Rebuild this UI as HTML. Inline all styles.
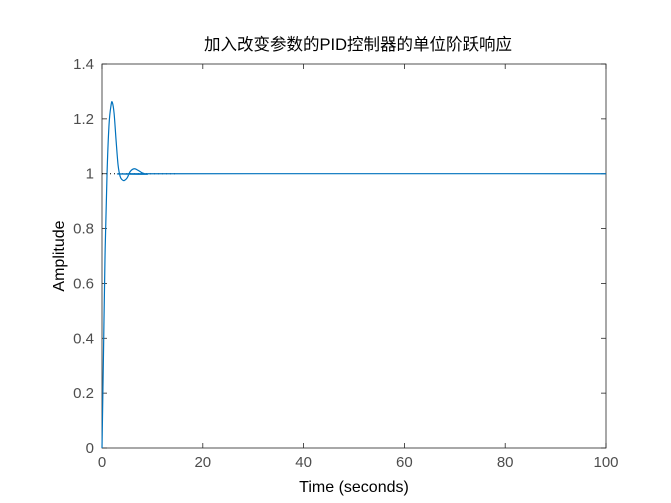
<!DOCTYPE html>
<html><head><meta charset="utf-8"><style>
body{margin:0;background:#fff;}
svg{display:block;font-family:"Liberation Sans","Noto Sans CJK SC",sans-serif;}
</style></head><body>
<svg id="chart" width="671" height="503" viewBox="0 0 671 503">
<rect x="0" y="0" width="671" height="503" fill="#fff"/>
<rect x="102" y="64" width="504" height="384" fill="#fff" stroke="#262626" stroke-width="0.8"/>
<g id="axes"></g>
<g id="series"></g>
<text x="358" y="50" text-anchor="middle" font-size="16.5" fill="#000">加入改变参数的PID控制器的单位阶跃响应</text>
<text x="354" y="492" text-anchor="middle" font-size="16" fill="#000">Time (seconds)</text>
<text transform="translate(64,256) rotate(-90)" text-anchor="middle" font-size="16" fill="#000">Amplitude</text>
</svg>
<script>
const timeValues=[0,0.3,0.6,1.0,1.4,1.8,2.05,2.4,2.8,3.2,3.6,4.0,4.4,5.0,5.6,6.4,7.2,8.0,9,10,100];
const amplitudeValues=[0,0.35,0.7,1.0,1.18,1.25,1.26,1.22,1.12,1.03,0.99,0.978,0.975,0.985,1.008,1.018,1.012,1.003,0.998,1.0,1.0];
const steadyState=[1.0];
const xTicks=[0,20,40,60,80,100];
const yTicks=[0,0.2,0.4,0.6,0.8,1,1.2,1.4];
const L=102,R=606,T=64,B=448;
const sx=v=>L+(v-0)/100*(R-L);
const sy=v=>B-(v-0)/1.4*(B-T);
const NS="http://www.w3.org/2000/svg";
const axes=document.getElementById('axes');
const ser=document.getElementById('series');
function mk(tag,attrs,parent){const e=document.createElementNS(NS,tag);for(const k in attrs)e.setAttribute(k,attrs[k]);parent.appendChild(e);return e;}
xTicks.forEach(v=>{
  const x=sx(v);
  const t1=mk('line',{x1:x,x2:x,y1:B,y2:B-5,stroke:'#262626','stroke-width':0.8},axes);
  
  
  const t2=mk('line',{x1:x,x2:x,y1:T,y2:T+5,stroke:'#262626','stroke-width':0.8},axes);
  
  
  const tx=mk('text',{x:x,y:B+19,'text-anchor':'middle','font-size':15,fill:'#4d4d4d'},axes);
  tx.textContent=v;
  
  
});
yTicks.forEach(v=>{
  const y=sy(v);
  const t1=mk('line',{x1:L,x2:L+5,y1:y,y2:y,stroke:'#262626','stroke-width':0.8},axes);
  
  
  const t2=mk('line',{x1:R,x2:R-5,y1:y,y2:y,stroke:'#262626','stroke-width':0.8},axes);
  
  
  const tx=mk('text',{x:L-8,y:y+5,'text-anchor':'end','font-size':15,fill:'#4d4d4d'},axes);
  tx.textContent=v;
  
  
});
const ss=mk('line',{x1:sx(0),x2:sx(15),y1:sy(steadyState[0]),y2:sy(steadyState[0]),stroke:'#000','stroke-width':1,'stroke-dasharray':'1,3'},ser);


const pts=timeValues.map((t,i)=>[sx(t),sy(amplitudeValues[i])]);
let d='M'+pts[0][0]+','+pts[0][1];
for(let i=0;i<pts.length-1;i++){
  const p0=pts[Math.max(0,i-1)],p1=pts[i],p2=pts[i+1],p3=pts[Math.min(pts.length-1,i+2)];
  const c1=[p1[0]+(p2[0]-p0[0])/6,p1[1]+(p2[1]-p0[1])/6];
  const c2=[p2[0]-(p3[0]-p1[0])/6,p2[1]-(p3[1]-p1[1])/6];
  d+=` C${c1[0]},${c1[1]} ${c2[0]},${c2[1]} ${p2[0]},${p2[1]}`;
}
const path=mk('path',{d:d,fill:'none',stroke:'#0072bd','stroke-width':1.2},ser);


</script>
</body></html>
